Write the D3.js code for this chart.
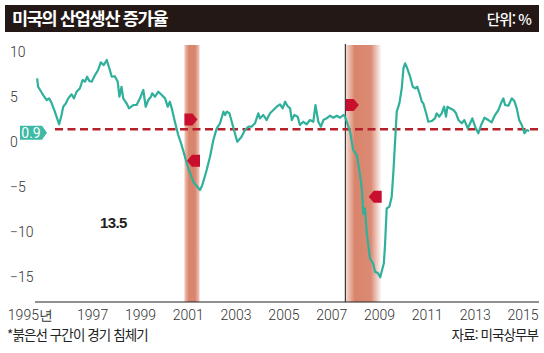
<!DOCTYPE html>
<html lang="ko">
<head>
<meta charset="UTF-8">
<title>미국의 산업생산 증가율</title>
<style>
  body { margin: 0; background: #fff; }
  svg { display: block; }
  .tick-label { font-family: Roboto, "Liberation Sans", sans-serif; font-weight: 300; font-size: 14px; fill: #333; }
  .kr { font-family: "Noto Sans CJK KR", sans-serif; }
</style>
</head>
<body>
<div id="chart"></div>
<script src="https://d3js.org/d3.v7.min.js"></script>
<script>
// time as fractional years, values in % (year-on-year)
const months = [
  1995.01, 1995.05, 1995.26, 1995.41, 1995.51, 1995.62, 1995.75, 1995.93,
  1996.03, 1996.10, 1996.21, 1996.31, 1996.45, 1996.55, 1996.66, 1996.80, 1996.91,
  1997.01, 1997.10, 1997.19, 1997.29, 1997.43, 1997.56, 1997.67, 1997.80, 1997.92,
  1998.03, 1998.13, 1998.26, 1998.38, 1998.45, 1998.54, 1998.61, 1998.75, 1998.85,
  1999.03, 1999.17, 1999.31, 1999.45, 1999.55, 1999.66, 1999.77, 1999.82, 1999.94,
  2000.08, 2000.22, 2000.36, 2000.47, 2000.56, 2000.64, 2000.77, 2000.91,
  2001.05, 2001.19, 2001.33, 2001.54, 2001.82, 2001.89, 2001.96,
  2002.10, 2002.24, 2002.38, 2002.52, 2002.66, 2002.80, 2002.87, 2002.94,
  2003.05, 2003.15, 2003.28, 2003.38, 2003.56, 2003.70, 2003.84, 2003.98,
  2004.12, 2004.26, 2004.33, 2004.47, 2004.61, 2004.75, 2004.89,
  2005.03, 2005.17, 2005.28, 2005.38, 2005.48, 2005.59, 2005.66, 2005.77, 2005.91,
  2006.00, 2006.14, 2006.28, 2006.42, 2006.56, 2006.65, 2006.77, 2006.88, 2006.98,
  2007.12, 2007.26, 2007.40, 2007.54, 2007.68, 2007.82, 2007.89, 2007.96,
  2008.10, 2008.23, 2008.38, 2008.47, 2008.59, 2008.65, 2008.72, 2008.79, 2008.93,
  2009.07, 2009.14, 2009.27, 2009.36, 2009.51, 2009.56, 2009.63, 2009.74, 2009.84, 2009.91, 2009.98,
  2010.05, 2010.16, 2010.26, 2010.33, 2010.40, 2010.49, 2010.61, 2010.72, 2010.82, 2010.91,
  2011.00, 2011.10, 2011.16, 2011.28, 2011.37, 2011.51, 2011.65, 2011.72, 2011.83, 2011.93,
  2012.03, 2012.11, 2012.17, 2012.28, 2012.42, 2012.53, 2012.63, 2012.77, 2012.88,
  2013.02, 2013.12, 2013.21, 2013.33, 2013.46, 2013.58, 2013.72, 2013.88,
  2014.02, 2014.16, 2014.30, 2014.44, 2014.51, 2014.58, 2014.72, 2014.86, 2014.97,
  2015.07, 2015.17, 2015.28, 2015.39, 2015.49, 2015.59
];
const growth = [
  6.57, 5.63, 4.71, 4.16, 4.34, 3.79, 2.86, 1.46,
  2.49, 3.41, 3.79, 4.34, 4.79, 4.34, 5.08, 5.46, 6.38,
  6.19, 6.74, 6.27, 6.19, 6.93, 7.49, 8.34, 8.04, 8.60,
  7.68, 6.74, 6.80, 6.19, 4.52, 5.63, 4.34, 3.79, 3.23,
  3.60, 3.60, 4.34, 5.27, 3.41, 4.16, 4.52, 4.90, 4.52,
  5.08, 4.71, 4.34, 3.41, 3.97, 3.23, 1.74, 0.27,
  -0.84, -2.14, -3.43, -4.92, -5.84, -5.48, -4.92,
  -3.62, -2.14, -0.29, 1.01, 1.57, 2.86, 2.49, 2.86,
  2.68, 1.74, 0.46, -0.48, 0.08, 0.82, 1.19, 1.19,
  1.57, 2.68, 2.12, 2.49, 1.93, 2.68, 3.04,
  3.41, 3.68, 3.23, 3.97, 3.49, 3.23, 1.93, 2.49, 2.30,
  1.38, 1.74, 1.46, 1.93, 1.74, 3.60, 1.74, 1.19, 1.93,
  2.12, 2.41, 2.19, 2.41, 2.19, 2.49, 2.30, 1.74,
  0.63, -1.40, -1.96, -3.43, -5.66, -8.50, -7.88, -10.48, -13.43,
  -14.07, -14.92, -15.10, -15.54, -13.99, -11.96, -7.88, -7.70, -6.59, -3.81, -0.48,
  2.86, 3.79, 5.46, 7.68, 8.23, 7.68, 6.74, 5.63, 5.46, 5.63,
  4.90, 3.97, 3.79, 2.68, 1.74, 1.82, 2.12, 2.68, 2.30, 2.68,
  3.41, 2.30, 3.41, 3.23, 3.04, 2.68, 1.93, 1.57, 1.93,
  1.01, 1.57, 2.12, 1.19, 0.46, 1.38, 2.19, 1.93,
  1.68, 2.49, 3.04, 3.97, 4.34, 3.60, 3.52, 4.34, 4.04,
  3.23, 1.93, 1.38, 0.46, 0.82, 0.71
];

// recessions (start, end) in fractional years
const recessions = [[2001.17, 2001.80], [2007.92, 2009.42]];
// marker flags: [time, value, direction]
const flags = [[2001.17, 2.0, "right"], [2001.82, -2.6, "left"], [2007.92, 3.6, "right"], [2009.42, -6.6, "left"]];
const yTicks = [10, 5, 0, -5, -10, -15];
const xYears = [1995, 1997, 1999, 2001, 2003, 2005, 2007, 2009, 2011, 2013, 2015];
const avgValue = 0.9;

const W = 544, H = 353;
const svg = d3.select("#chart").append("svg").attr("width", W).attr("height", H);

const x = d3.scaleLinear().domain([1994.92, 2016.0]).range([35, 539]);
const y = d3.scaleLinear().domain([-18.29, 10.27]).range([302, 45]);

// title bar
svg.append("rect").attr("x", 5).attr("y", 5).attr("width", 534).attr("height", 27).attr("fill", "#231815");
svg.append("text").attr("class", "kr").attr("x", 12).attr("y", 25)
  .attr("font-size", 17.5).attr("font-weight", 700).attr("letter-spacing", -1.3).attr("fill", "#fff")
  .text("미국의 산업생산 증가율");
svg.append("text").attr("class", "kr").attr("x", 531).attr("y", 24.5).attr("text-anchor", "end")
  .attr("font-size", 14.5).attr("font-weight", 500).attr("letter-spacing", -0.9).attr("fill", "#fff")
  .text("단위: %");

// recession bands with soft edges
const defs = svg.append("defs");
const gradStops = [
  [[0, 0.45], [0.3, 1], [0.7, 1], [1, 0.45]],
  [[0, 0.3], [0.25, 1], [0.7, 0.95], [1, 0]]
];
recessions.forEach((r, i) => {
  const g = defs.append("linearGradient").attr("id", "band" + i).attr("x1", "0").attr("x2", "1");
  gradStops[i].forEach(s => g.append("stop").attr("offset", s[0]).attr("stop-color", "#d9846c").attr("stop-opacity", s[1]));
  svg.append("rect")
    .attr("x", x(r[0])).attr("y", y.range()[1])
    .attr("width", x(r[1]) - x(r[0])).attr("height", y.range()[0] - y.range()[1])
    .attr("fill", `url(#band${i})`);
});

// vertical line at 2007 recession start
svg.append("line")
  .attr("x1", x(recessions[1][0]) - 0.5).attr("x2", x(recessions[1][0]) - 0.5)
  .attr("y1", y.range()[1] - 1).attr("y2", y.range()[0])
  .attr("stroke", "#111").attr("stroke-width", 1);

// y tick labels
svg.append("g").selectAll("text").data(yTicks).join("text")
  .attr("class", "tick-label")
  .attr("x", 10).attr("y", d => y(d) + 4.5).attr("dy", "0.35em")
  .text(d => d < 0 ? "\u2212" + Math.abs(d) : d);

// x axis baseline
svg.append("line").attr("x1", x.range()[0]).attr("x2", x.range()[1])
  .attr("y1", y.range()[0]).attr("y2", y.range()[0])
  .attr("stroke", "#222").attr("stroke-width", 1.2);

// x labels
svg.append("g").selectAll("text").data(xYears).join("text")
  .attr("class", "tick-label")
  .attr("x", (d, i) => i === 0 ? x(d) + 16 : x(d + 0.33))
  .attr("y", 320)
  .attr("text-anchor", (d, i) => i === 0 ? "end" : "middle")
  .text((d, i) => i === 0 ? d + "년" : d);

// average dashed line
svg.append("line").attr("x1", 55).attr("x2", x.range()[1])
  .attr("y1", y(avgValue)).attr("y2", y(avgValue))
  .attr("stroke", "#b5202b").attr("stroke-width", 2.6).attr("stroke-dasharray", "8,4.5");

// average label tag
const ty = y(avgValue) + 3.5;
svg.append("path")
  .attr("d", `M20,${ty - 7}H42V${ty - 7}L47,${ty}L42,${ty + 7}H20Z`)
  .attr("fill", "#3dbaa5");
svg.append("text").attr("class", "tick-label").attr("x", 31).attr("y", ty).attr("dy", "0.36em")
  .attr("text-anchor", "middle").style("fill", "#fff").style("font-weight", 400).text(avgValue);

// growth line
const series = months.map((t, i) => ({ t: t, v: growth[i] }));
svg.append("path").datum(series)
  .attr("fill", "none").attr("stroke", "#2fb09b").attr("stroke-width", 2.2)
  .attr("stroke-linejoin", "round")
  .attr("d", d3.line().x(d => x(d.t)).y(d => y(d.v)));

// recession start/end flags
svg.append("g").selectAll("path").data(flags).join("path")
  .attr("fill", "#c8102e")
  .attr("d", d => {
    const px = x(d[0]), py = y(d[1]);
    if (d[2] === "right") return `M${px},${py - 6}H${px + 8}L${px + 13},${py}L${px + 8},${py + 6}H${px}Z`;
    return `M${px},${py - 6}H${px - 8}L${px - 13},${py}L${px - 8},${py + 6}H${px}Z`;
  });

// annotation
svg.append("text").attr("x", x(1998.2)).attr("y", y(-9.5)).attr("dy", "0.35em")
  .attr("text-anchor", "middle")
  .attr("font-family", "Liberation Sans, sans-serif").attr("font-weight", 700)
  .attr("font-size", 15).attr("letter-spacing", -0.6).attr("fill", "#222")
  .text("13.5");

// footer
svg.append("text").attr("class", "kr").attr("x", 7).attr("y", 340)
  .attr("font-size", 13.5).attr("letter-spacing", -0.9).attr("fill", "#222")
  .text("*붉은선 구간이 경기 침체기");
svg.append("text").attr("class", "kr").attr("x", 538).attr("y", 340).attr("text-anchor", "end")
  .attr("font-size", 13.5).attr("letter-spacing", -0.9).attr("fill", "#222")
  .text("자료: 미국상무부");
</script>
</body>
</html>
